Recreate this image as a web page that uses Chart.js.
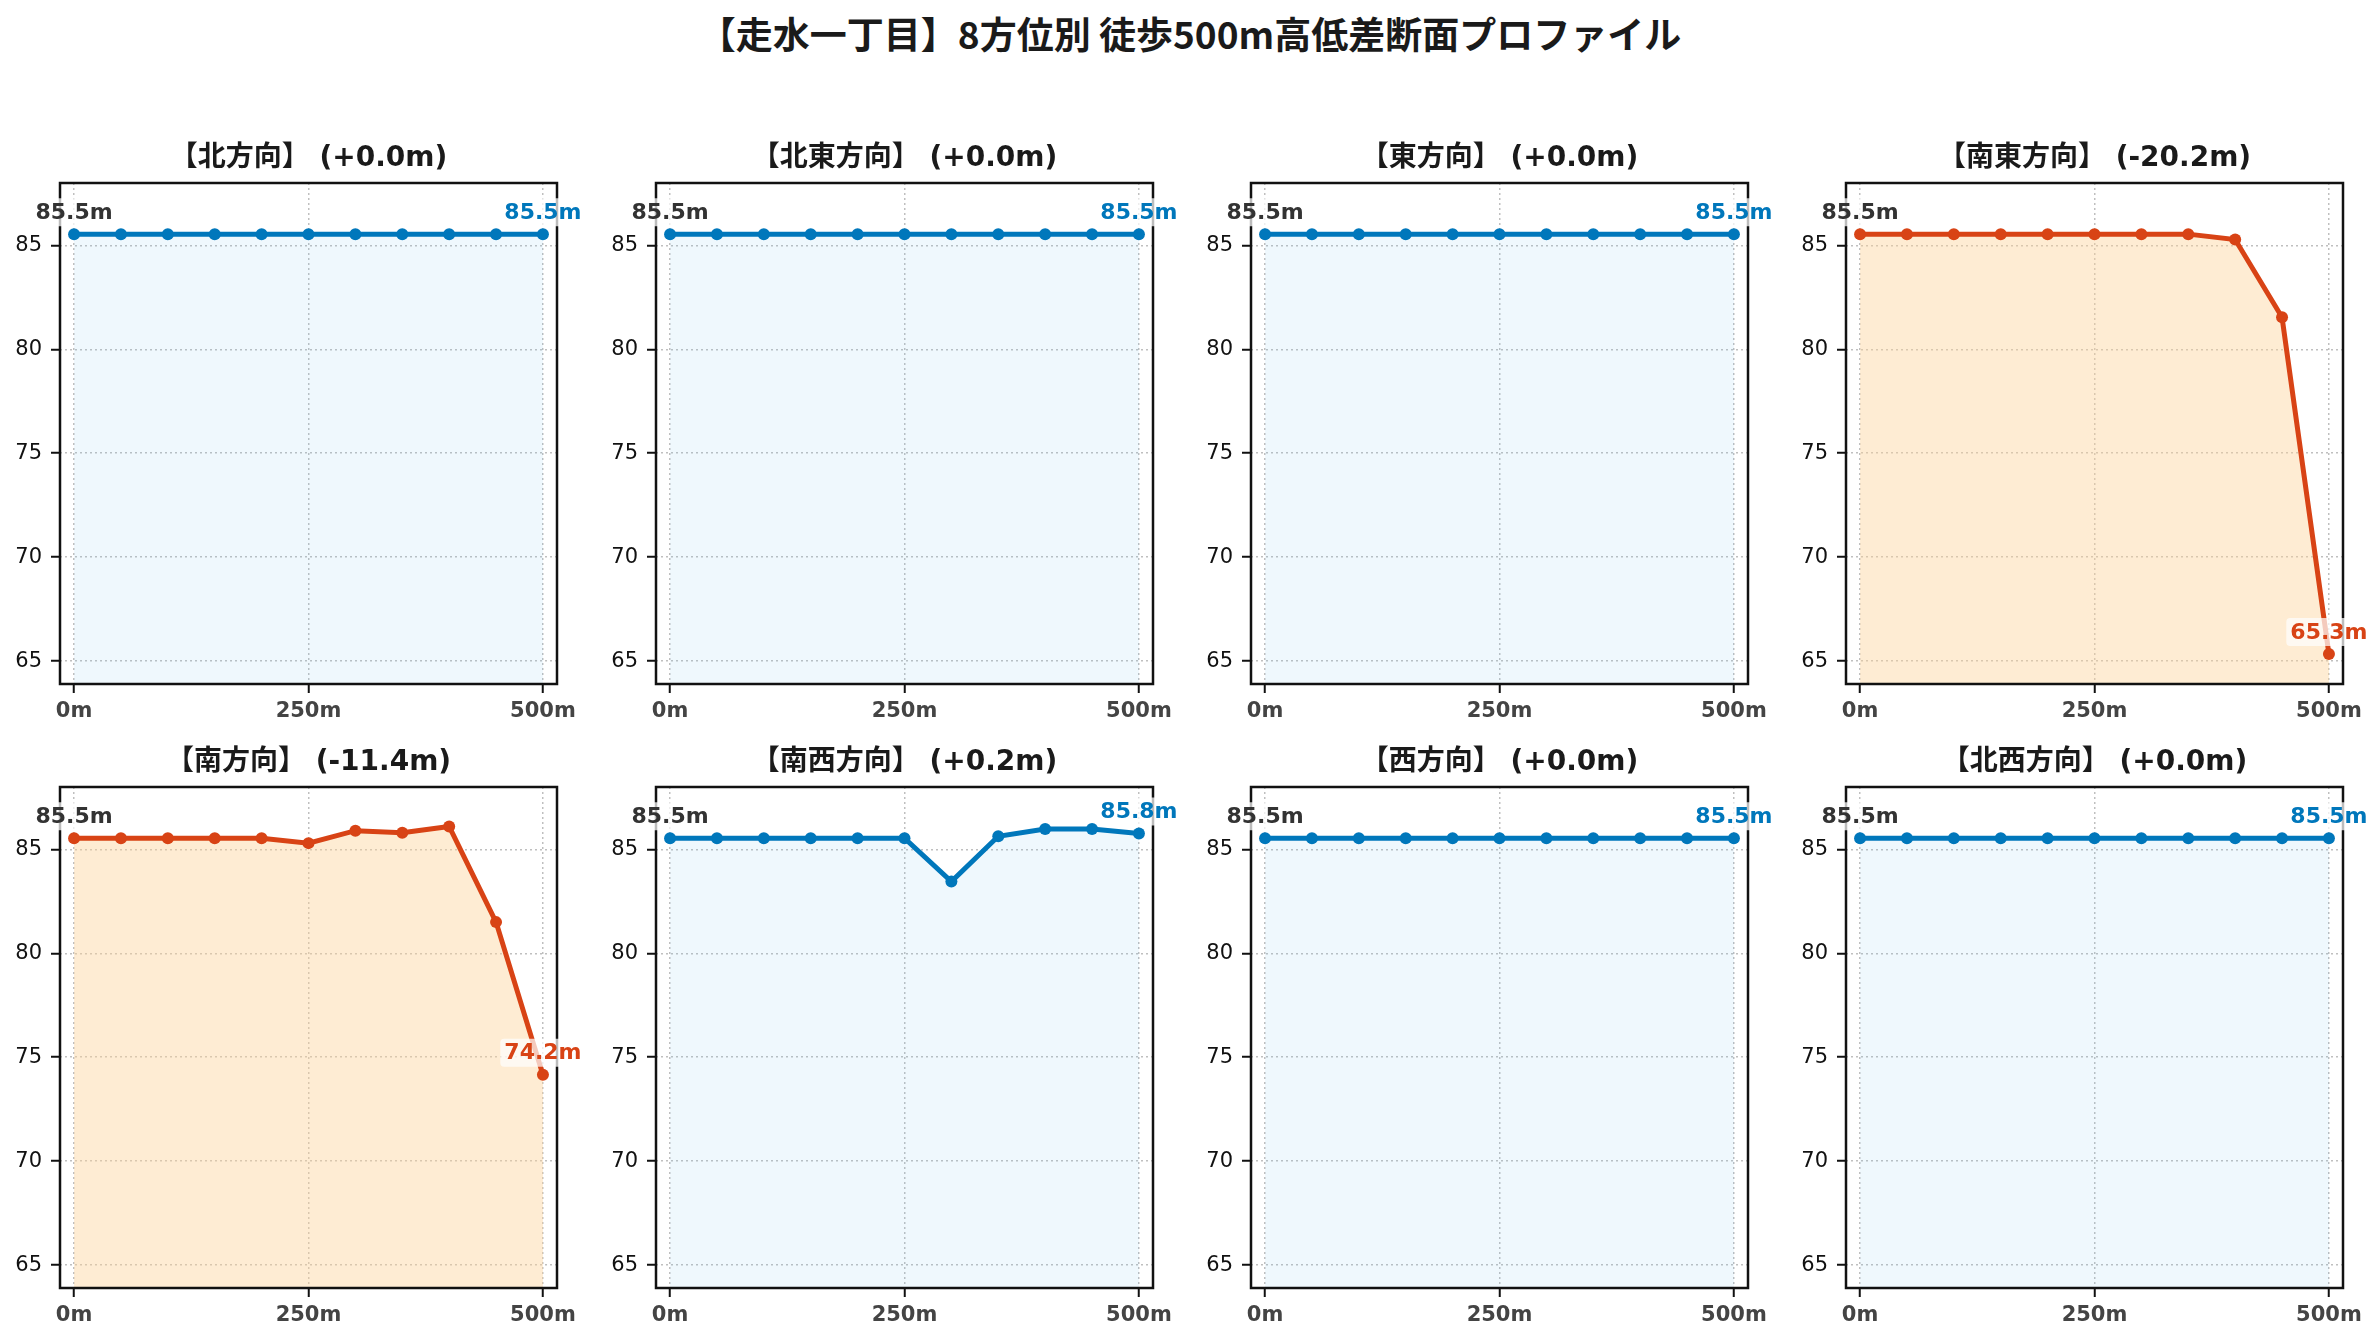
<!DOCTYPE html>
<html>
<head>
<meta charset="utf-8">
<script src="https://cdn.jsdelivr.net/npm/chart.js@4.4.1/dist/chart.umd.min.js"></script>
<style>
  html, body { margin: 0; padding: 0; background: #ffffff; }
  body { width: 2380px; height: 1340px; position: relative; overflow: hidden; }
  #title { position: absolute; left: 0; top: 0; width: 2380px; height: 66px; line-height: 66px;
           text-align: center; font-family: "Noto Sans CJK JP", "DejaVu Sans", sans-serif;
           font-weight: bold; font-size: 37px; color: #1a1a1a; }
  canvas { position: absolute; }
</style>
</head>
<body>
<div id="title">【走水一丁目】8方位別 徒歩500m高低差断面プロファイル</div>
<script>
// ---- data ----
const chartTitle = "【走水一丁目】8方位別 徒歩500m高低差断面プロファイル";
const distances = [0, 50, 100, 150, 200, 250, 300, 350, 400, 450, 500];
const directionNames = ["北", "北東", "東", "南東", "南", "南西", "西", "北西"];
const north     = [85.54, 85.54, 85.54, 85.54, 85.54, 85.54, 85.54, 85.54, 85.54, 85.54, 85.54];
const northEast = [85.54, 85.54, 85.54, 85.54, 85.54, 85.54, 85.54, 85.54, 85.54, 85.54, 85.54];
const east      = [85.54, 85.54, 85.54, 85.54, 85.54, 85.54, 85.54, 85.54, 85.54, 85.54, 85.54];
const southEast = [85.54, 85.54, 85.54, 85.54, 85.54, 85.54, 85.54, 85.54, 85.28, 81.54, 65.34];
const south     = [85.54, 85.54, 85.54, 85.54, 85.54, 85.30, 85.90, 85.80, 86.10, 81.50, 74.16];
const southWest = [85.54, 85.54, 85.54, 85.54, 85.54, 85.54, 83.45, 85.63, 85.98, 85.98, 85.76];
const west      = [85.54, 85.54, 85.54, 85.54, 85.54, 85.54, 85.54, 85.54, 85.54, 85.54, 85.54];
const northWest = [85.54, 85.54, 85.54, 85.54, 85.54, 85.54, 85.54, 85.54, 85.54, 85.54, 85.54];
const xTicks = [0, 250, 500];
const xTickLabels = ["0m", "250m", "500m"];
const yTicks = [65, 70, 75, 80, 85];

const seriesList = [north, northEast, east, southEast, south, southWest, west, northWest];

// ---- layout / style ----
const Y_MIN = 63.9, Y_MAX = 88.0, X_MIN = -15, X_MAX = 515;
const plotLefts = [60, 656, 1251, 1846];
const plotTops = [183, 787];
const PW = 497, PH = 501;
const ML = 80, MR = 80, MT = 70, MB = 60;
const BLUE = "#0077BB", RED = "#D84315";
const BLUE_FILL = "rgba(100,190,235,0.10)", RED_FILL = "rgba(252,210,150,0.42)";
const TXT = "DejaVu Sans, Noto Sans CJK JP, sans-serif";

function roundRect(ctx, x, y, w, h, r) {
  ctx.beginPath();
  ctx.moveTo(x + r, y);
  ctx.lineTo(x + w - r, y); ctx.quadraticCurveTo(x + w, y, x + w, y + r);
  ctx.lineTo(x + w, y + h - r); ctx.quadraticCurveTo(x + w, y + h, x + w - r, y + h);
  ctx.lineTo(x + r, y + h); ctx.quadraticCurveTo(x, y + h, x, y + h - r);
  ctx.lineTo(x, y + r); ctx.quadraticCurveTo(x, y, x + r, y);
  ctx.closePath();
}

function drawLabel(ctx, text, x, y, color) {
  ctx.save();
  ctx.font = "bold 22px " + TXT;
  const w = ctx.measureText(text).width;
  const h = 24;
  ctx.fillStyle = "rgba(255,255,255,0.72)";
  roundRect(ctx, x - w / 2 - 4, y - h / 2 - 2, w + 8, h + 4, 4);
  ctx.fill();
  ctx.fillStyle = color;
  ctx.textAlign = "center";
  ctx.textBaseline = "middle";
  ctx.fillText(text, x, y + 1);
  ctx.restore();
}

const framePlugin = {
  id: "frameAndLabels",
  afterDraw(chart, args, opts) {
    const ctx = chart.ctx;
    const a = chart.chartArea;
    ctx.save();
    ctx.strokeStyle = "#111";
    ctx.lineWidth = 2.5;
    ctx.strokeRect(a.left, a.top, a.right - a.left, a.bottom - a.top);
    ctx.restore();
    const meta = chart.getDatasetMeta(0);
    const data = chart.data.datasets[0].data;
    const first = meta.data[0], last = meta.data[meta.data.length - 1];
    drawLabel(ctx, data[0].y.toFixed(1) + "m", first.x, first.y - 22, "#333");
    drawLabel(ctx, data[data.length - 1].y.toFixed(1) + "m", last.x, last.y - 22, opts.color);
  }
};

const gridOpts = {
  color: "rgba(0,0,0,0.25)", lineWidth: 1.5,
  tickColor: "#111", tickWidth: 2, tickLength: 9, tickBorderDash: []
};
const borderOpts = { display: false, dash: [2, 3] };

seriesList.forEach((vals, i) => {
  const col = i % 4, row = Math.floor(i / 4);
  const cv = document.createElement("canvas");
  const W = ML + PW + MR, H = MT + PH + MB;
  cv.width = W; cv.height = H;
  cv.style.width = W + "px"; cv.style.height = H + "px";
  cv.style.left = (plotLefts[col] - ML) + "px";
  cv.style.top = (plotTops[row] - MT) + "px";
  document.body.appendChild(cv);

  const diff = vals[vals.length - 1] - vals[0];
  const isDrop = diff <= -5;
  const lineColor = isDrop ? RED : BLUE;
  const fillColor = isDrop ? RED_FILL : BLUE_FILL;
  const sign = diff >= 0 ? "+" : "";
  const title = "【" + directionNames[i] + "方向】 (" + sign + diff.toFixed(1) + "m)";

  new Chart(cv, {
    type: "line",
    data: {
      datasets: [{
        data: distances.map((d, k) => ({ x: d, y: vals[k] })),
        borderColor: lineColor,
        backgroundColor: fillColor,
        borderWidth: 5,
        pointRadius: 6,
        pointBackgroundColor: lineColor,
        pointBorderWidth: 0,
        fill: "start",
        tension: 0
      }]
    },
    options: {
      responsive: false,
      animation: false,
      devicePixelRatio: 1,
      layout: { padding: { left: 0, right: MR, top: 0, bottom: 0 } },
      plugins: {
        legend: { display: false },
        tooltip: { enabled: false },
        title: {
          display: true,
          fullSize: false,
          text: title,
          color: "#1a1a1a",
          font: { family: TXT, size: 28, weight: "bold", lineHeight: 1.2 },
          padding: { top: 29, bottom: 7.4 }
        },
        frameAndLabels: { color: lineColor }
      },
      scales: {
        x: {
          type: "linear",
          min: X_MIN, max: X_MAX,
          afterBuildTicks: s => { s.ticks = xTicks.map(v => ({ value: v })); },
          afterFit: s => { s.height = MB; },
          ticks: {
            autoSkip: false, maxRotation: 0, padding: 6,
            color: "#444",
            font: { family: TXT, size: 21, weight: "bold" },
            callback: v => xTickLabels[xTicks.indexOf(v)]
          },
          grid: gridOpts,
          border: borderOpts
        },
        y: {
          type: "linear",
          min: Y_MIN, max: Y_MAX,
          afterBuildTicks: s => { s.ticks = yTicks.map(v => ({ value: v })); },
          afterFit: s => { s.width = ML; },
          ticks: {
            autoSkip: false, padding: 9,
            color: "#111",
            font: { family: TXT, size: 21 },
            callback: v => String(v)
          },
          grid: gridOpts,
          border: borderOpts
        }
      }
    },
    plugins: [framePlugin]
  });
});
</script>
</body>
</html>
